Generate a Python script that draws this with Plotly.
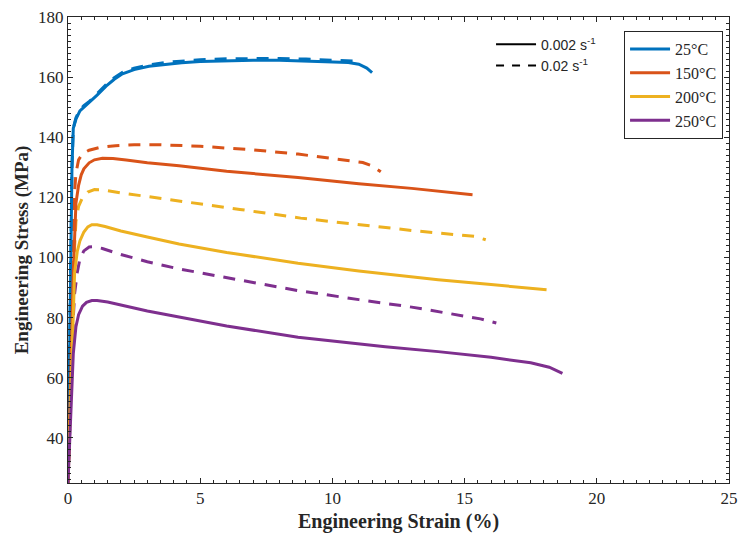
import plotly.graph_objects as go

# ---- data (engineering strain %, engineering stress MPa) ----
temps = ["25°C", "150°C", "200°C", "250°C"]
rates = ["0.002 s<sup>-1</sup>", "0.02 s<sup>-1</sup>"]

x_25_slow = [0, 0.05, 0.1, 0.15, 0.2, 0.3, 0.45, 0.6, 0.82, 1.1, 1.44, 1.75, 2.06, 2.5, 3.06, 3.7, 4.3, 5, 6, 7, 8, 9, 10, 10.6, 11, 11.3, 11.5]
y_25_slow = [25, 60, 100, 130, 143, 146, 148.8, 150, 151.5, 154, 157, 159.3, 161.1, 162.5, 163.6, 164.3, 164.8, 165.2, 165.5, 165.6, 165.6, 165.4, 165.2, 164.9, 164.3, 163, 161.5]
x_25_fast = [0, 0.05, 0.1, 0.15, 0.2, 0.3, 0.45, 0.6, 0.82, 1.1, 1.44, 1.75, 2.06, 2.5, 3.06, 3.7, 4.3, 5, 6, 7, 8, 9, 10, 10.9]
y_25_fast = [25, 60, 100, 130, 143, 146.5, 149.2, 150.5, 152, 154.5, 157.5, 159.8, 161.6, 163, 164.1, 164.9, 165.4, 165.8, 166.1, 166.2, 166.2, 166, 165.7, 165.3]

x_150_slow = [0, 0.1, 0.2, 0.3, 0.4, 0.5, 0.6, 0.8, 1.0, 1.3, 1.7, 2.2, 3, 4.2, 6, 8.7, 11, 13, 15.3]
y_150_slow = [25, 60, 95, 118, 124, 127.5, 129.5, 131.5, 132.5, 133, 132.9, 132.4, 131.5, 130.5, 128.7, 126.6, 124.5, 123, 120.9]
x_150_fast = [0, 0.1, 0.2, 0.25, 0.3, 0.4, 0.55, 0.8, 1.2, 1.8, 2.5, 3.5, 5, 7, 8.7, 10, 11.15, 11.5, 11.83]
y_150_fast = [25, 65, 105, 122, 128, 132.5, 134.5, 135.7, 136.6, 137.2, 137.5, 137.5, 137, 135.8, 134.4, 133, 131.6, 130.5, 128.5]

x_200_slow = [0, 0.1, 0.2, 0.25, 0.35, 0.45, 0.6, 0.75, 0.9, 1.1, 1.4, 2, 3, 4.2, 6, 8.7, 11, 14, 16, 18.1]
y_200_slow = [25, 55, 85, 95, 102, 105.5, 108.5, 110.2, 110.9, 110.9, 110.3, 108.8, 106.8, 104.5, 101.7, 98.1, 95.5, 92.6, 91, 89.3]
x_200_fast = [0, 0.1, 0.2, 0.3, 0.4, 0.55, 0.75, 1.0, 1.3, 2, 4.2, 6.5, 8.8, 11, 13, 15.4, 15.8]
y_200_fast = [25, 60, 95, 112, 117, 120, 121.8, 122.6, 122.5, 121.5, 118.9, 116, 113.1, 111, 109, 107, 105.9]

x_250_slow = [0, 0.1, 0.2, 0.3, 0.4, 0.55, 0.7, 0.9, 1.1, 1.5, 2, 3, 4.2, 6, 8.7, 12, 14, 16, 17.5, 18.2, 18.7]
y_250_slow = [25, 45, 68, 77, 81, 83.8, 85.1, 85.7, 85.7, 85.2, 84.2, 82.2, 80.2, 77.2, 73.5, 70.3, 68.7, 66.8, 65, 63.5, 61.5]
x_250_fast = [0, 0.1, 0.2, 0.25, 0.35, 0.45, 0.6, 0.8, 1.0, 1.3, 2, 3, 4.2, 6.5, 8.7, 11, 13, 15.6, 16.2]
y_250_fast = [25, 55, 80, 88, 95, 99.5, 102.2, 103.5, 103.6, 103, 101, 98.6, 96.2, 92.5, 89, 86, 83.5, 79.6, 78.2]

colors = ["#0072BD", "#D95319", "#EDB120", "#7E2F8E"]
slow = [(x_25_slow, y_25_slow), (x_150_slow, y_150_slow), (x_200_slow, y_200_slow), (x_250_slow, y_250_slow)]
fast = [(x_25_fast, y_25_fast), (x_150_fast, y_150_fast), (x_200_fast, y_200_fast), (x_250_fast, y_250_fast)]

fig = go.Figure()
DASH = "12px,9px"
for i, t in enumerate(temps):
    fx, fy = fast[i]
    fig.add_trace(go.Scatter(x=fx, y=fy, mode="lines", showlegend=False,
                             line=dict(color=colors[i], width=3, dash=DASH)))
for i, t in enumerate(temps):
    sx, sy = slow[i]
    fig.add_trace(go.Scatter(x=sx, y=sy, mode="lines", name=t, legend="legend",
                             line=dict(color=colors[i], width=3)))

fig.add_trace(go.Scatter(x=[None], y=[None], mode="lines", name=rates[0], legend="legend2",
                         line=dict(color="black", width=2)))
fig.add_trace(go.Scatter(x=[None], y=[None], mode="lines", name=rates[1], legend="legend2",
                         line=dict(color="black", width=2, dash="8px,8px")))

serif = "Liberation Serif"
axis_common = dict(showline=True, linecolor="#262626", linewidth=1, mirror="ticks",
                   ticks="inside", ticklen=5, tickcolor="#262626", showgrid=False, zeroline=False,
                   tickfont=dict(family=serif, size=17, color="#262626"))
fig.update_layout(
    width=746, height=542,
    margin=dict(l=68, r=8, t=16, b=59),
    plot_bgcolor="white", paper_bgcolor="white",
    xaxis=dict(range=[0, 25], tickvals=[0, 5, 10, 15, 20, 25], ticklabeloverflow="allow",
               minor=dict(dtick=0.5, ticks="inside", ticklen=3, tickcolor="#262626"),
               title=dict(text="<b>Engineering Strain (%)</b>", font=dict(family=serif, size=20, color="#262626"), standoff=6),
               **axis_common),
    yaxis=dict(range=[25, 180], tickvals=[40, 60, 80, 100, 120, 140, 160, 180], ticklabeloverflow="allow",
               minor=dict(tick0=0, dtick=2, ticks="inside", ticklen=3, tickcolor="#262626"),
               title=dict(text="<b>Engineering Stress (MPa)</b>", font=dict(family=serif, size=19, color="#262626"), standoff=4),
               **axis_common),
    legend=dict(x=0.991, y=0.97, xanchor="right", yanchor="top", bgcolor="white",
                bordercolor="#262626", borderwidth=1, tracegroupgap=0,
                font=dict(family=serif, size=16, color="#262626"), itemwidth=40),
    legend2=dict(x=0.64, y=0.975, xanchor="left", yanchor="top", bgcolor="rgba(0,0,0,0)",
                 borderwidth=0, font=dict(family="Liberation Sans", size=14, color="#262626"), itemwidth=40),
)
fig.write_html("out.html")
